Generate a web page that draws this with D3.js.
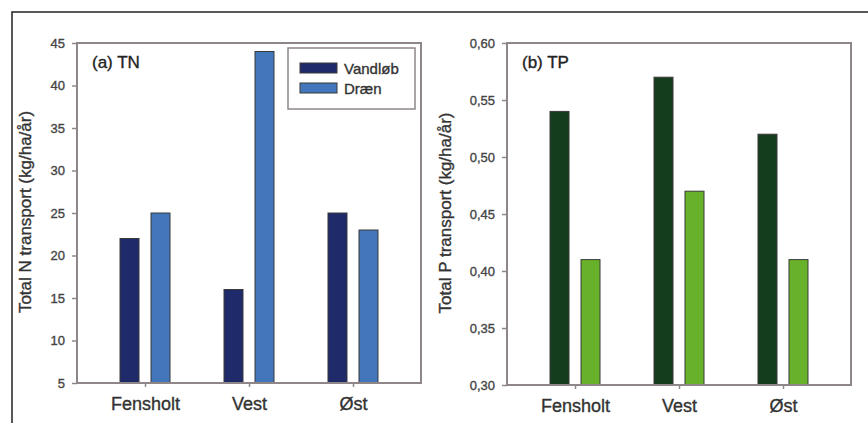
<!DOCTYPE html>
<html>
<head>
<meta charset="utf-8">
<script src="https://cdn.jsdelivr.net/npm/d3@7"></script>
<style>
  body { margin: 0; background: #fff; }
  svg { display: block; }
  text { font-family: "Liberation Sans", Arial, sans-serif; }
</style>
</head>
<body>
<svg id="chart" width="868" height="423"></svg>
<script>
const categories = ["Fensholt", "Vest", "Øst"];
const series = ["Vandløb", "Dræn"];
const tnVandlob = [22, 16, 25];
const tnDraen = [25, 44, 23];
const tpVandlob = [0.54, 0.57, 0.52];
const tpDraen = [0.41, 0.47, 0.41];
const tnTicks = [5, 10, 15, 20, 25, 30, 35, 40, 45];
const tpTicks = [0.30, 0.35, 0.40, 0.45, 0.50, 0.55, 0.60];

const svg = d3.select("#chart");
const font = '"Liberation Sans", Arial, sans-serif';

// outer frame
svg.append("rect").attr("x", 12).attr("y", 12).attr("width", 900).attr("height", 450)
  .attr("fill", "none").attr("stroke", "#222").attr("stroke-width", 1.5);

function heavy(sel, col) {
  return sel.attr("stroke", col).attr("stroke-width", 0.35).attr("paint-order", "stroke");
}

function panel(opts) {
  const g = svg.append("g");
  const x = d3.scalePoint().domain(categories).range([opts.x0, opts.x1]).padding(0.654);
  const sub = d3.scaleBand().domain(series).range([-25, 25]).paddingInner(0.387);
  const y = d3.scaleLinear().domain(opts.domain).range([opts.y1, opts.y0]);

  const data = [];
  categories.forEach((c, i) => {
    data.push({ c, s: series[0], v: opts.a[i] });
    data.push({ c, s: series[1], v: opts.b[i] });
  });
  const color = d3.scaleOrdinal().domain(series).range(opts.colors);

  g.selectAll("rect.bar").data(data).join("rect").attr("class", "bar")
    .attr("x", d => x(d.c) + sub(d.s))
    .attr("width", sub.bandwidth())
    .attr("y", d => y(d.v))
    .attr("height", d => y(opts.domain[0]) - y(d.v))
    .attr("fill", d => color(d.s))
    .attr("stroke", "#3a3a3a").attr("stroke-width", 1);

  // y axis
  const ya = g.append("g").attr("transform", `translate(${opts.x0},0)`)
    .call(d3.axisLeft(y).tickValues(opts.ticks).tickSize(5).tickPadding(7).tickFormat(opts.fmt));
  ya.select(".domain").remove();
  ya.selectAll("line").attr("stroke", "#8f8787").attr("stroke-width", 1.5);
  heavy(ya.selectAll("text").attr("font-size", 13).attr("fill", "#444").attr("font-family", font), "#444");

  // x axis ticks
  const xa = g.append("g").attr("transform", `translate(0,${opts.y1})`)
    .call(d3.axisBottom(x).tickSize(4).tickPadding(10));
  xa.select(".domain").remove();
  xa.selectAll("line").attr("stroke", "#8f8787").attr("stroke-width", 1.5);
  heavy(xa.selectAll("text").attr("font-size", 18).attr("fill", "#333").attr("font-family", font)
    .attr("dy", null).attr("y", opts.catY - opts.y1), "#333");

  // plot frame
  g.append("rect").attr("x", opts.x0).attr("y", opts.y0)
    .attr("width", opts.x1 - opts.x0).attr("height", opts.y1 - opts.y0)
    .attr("fill", "none").attr("stroke", "#8f8787").attr("stroke-width", 2);

  // panel label
  heavy(g.append("text").attr("x", opts.x0 + 15).attr("y", 68)
    .attr("font-size", 17).attr("fill", "#222").text(opts.label), "#222");

  // y label
  heavy(g.append("text").attr("transform", `translate(${opts.ylx},${opts.yly}) rotate(-90)`)
    .attr("text-anchor", "middle").attr("font-size", 17).attr("fill", "#333")
    .text(opts.ylabel), "#333");

  return { g, color };
}

const p1 = panel({
  x0: 77, x1: 421, y0: 43, y1: 383, domain: [5, 45], ticks: tnTicks,
  fmt: d3.format("d"), a: tnVandlob, b: tnDraen,
  colors: ["#1f2a6b", "#4277bb"], label: "(a) TN",
  ylabel: "Total N transport (kg/ha/år)", ylx: 31, yly: 212, catY: 410
});

const p2 = panel({
  x0: 507, x1: 851, y0: 43, y1: 385, domain: [0.30, 0.60], ticks: tpTicks,
  fmt: d => d3.format(".2f")(d).replace(".", ","), a: tpVandlob, b: tpDraen,
  colors: ["#133d1d", "#67b22a"], label: "(b) TP",
  ylabel: "Total P transport (kg/ha/år)", ylx: 451, yly: 213, catY: 412
});

// legend (panel a)
const lg = svg.append("g");
lg.append("rect").attr("x", 288).attr("y", 48).attr("width", 127).attr("height", 61)
  .attr("fill", "#fff").attr("stroke", "#8f8787").attr("stroke-width", 1.5);
series.forEach((s, i) => {
  lg.append("rect").attr("x", 300).attr("y", 63 + i * 20).attr("width", 37).attr("height", 10)
    .attr("fill", p1.color(s)).attr("stroke", "#3a3a3a").attr("stroke-width", 1);
  heavy(lg.append("text").attr("x", 344).attr("y", 74 + i * 20).attr("font-size", 15)
    .attr("fill", "#333").text(s), "#333");
});
</script>
</body>
</html>
